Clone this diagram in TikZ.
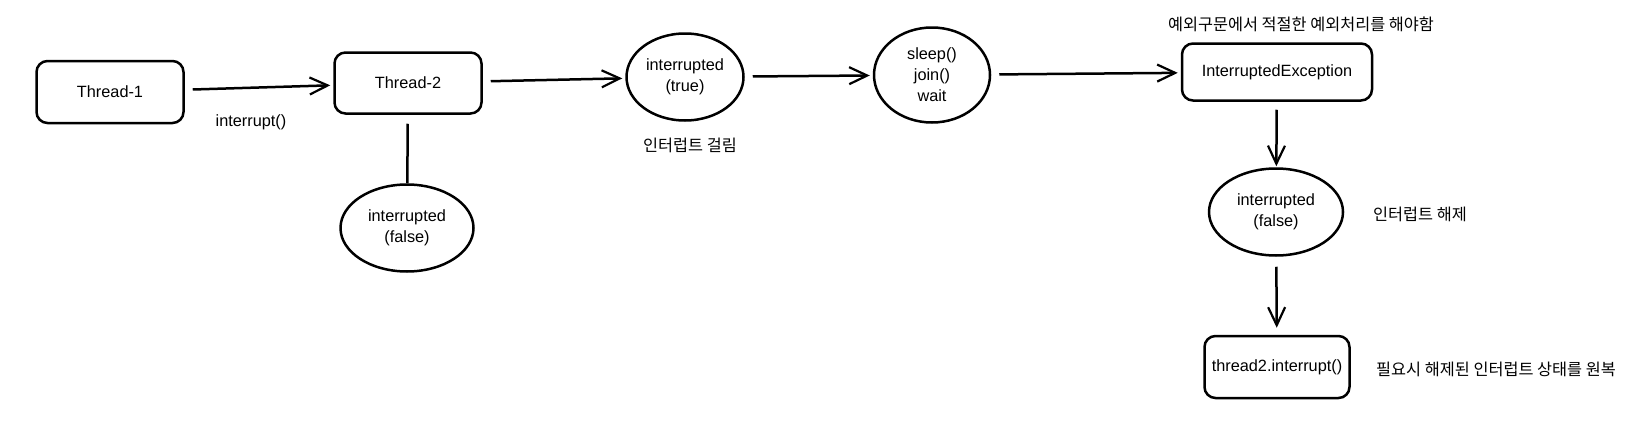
\documentclass[tikz,border=0pt]{standalone}
\usepackage{fontspec}
\setmainfont{Liberation Sans}
\newfontfamily\krfont{Noto Sans CJK KR}
\usetikzlibrary{arrows.meta,shapes.geometric}
\tikzset{
	box/.style={draw, line width=2.5pt, rounded corners=11pt, align=center},
	oval/.style={draw, ellipse, line width=2.5pt, align=center, inner sep=0pt},
	note/.style={font=\krfont\fontsize{16.3}{19}\selectfont},
	arr/.style={line width=2.5pt, -{Straight Barb[length=18pt,width=17pt,line width=2.2pt]}, shorten <=8pt, shorten >=3pt},
}
\begin{document}
\begin{tikzpicture}[x=1pt, y=-1pt, font=\fontsize{16.3}{21}\selectfont]
	\useasboundingbox (0,0) rectangle (1646,447);
	\node [box, minimum width=147pt, minimum height=62pt] (t1) at (110,92) {Thread-1};
	\node [box, minimum width=147pt, minimum height=61pt] (t2) at (408,83) {Thread-2};
	\node [oval, minimum width=133pt, minimum height=87pt] (f1) at (407,228) {interrupted\\(false)};
	\node [oval, minimum width=117pt, minimum height=87pt] (tr) at (685,77) {interrupted\\(true)};
	\node [oval, minimum width=116pt, minimum height=95pt] (sl) at (932,75) {sleep()\\join()\\wait};
	\node [box, minimum width=190pt, minimum height=57pt] (ex) at (1277,72) {InterruptedException};
	\node [oval, minimum width=134pt, minimum height=87pt] (f2) at (1276,212) {interrupted\\(false)};
	\node [box, minimum width=145pt, minimum height=62pt, inner xsep=1pt] (ti) at (1277,367) {thread2.interrupt()};
	\node (lb) at (251,122) {interrupt()};
	\node [note] (n1) at (690,145) {인터럽트 걸림};
	\node [note] (n2) at (1301,24) {예외구문에서 적절한 예외처리를 해야함};
	\node [note] (n3) at (1420,214) {인터럽트 해제};
	\node [note] (n4) at (1496,369) {필요시 해제된 인터럽트 상태를 원복};
	\draw [arr] (t1) -- (t2);
	\draw [line width=2.5pt, shorten <=9pt] (t2) -- (f1);
	\draw [arr] (t2) -- (tr);
	\draw [arr] (tr) -- (sl);
	\draw [arr] (sl) -- (ex);
	\draw [arr, shorten >=1pt] (ex) -- (f2);
	\draw [arr, shorten <=10pt, shorten >=7pt] (f2) -- (ti);
\end{tikzpicture}
\end{document}
